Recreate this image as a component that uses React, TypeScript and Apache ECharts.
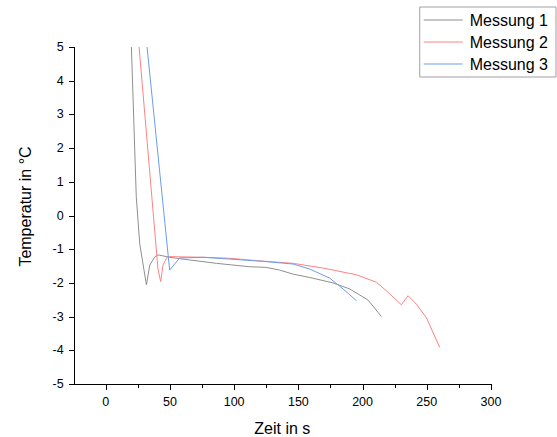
import React, { useEffect, useRef, useState } from "react";
import * as echarts from "echarts";

const seriesNames = ["Messung 1", "Messung 2", "Messung 3"];

const m1X = [20, 23.8, 26.5, 31.7, 34.3, 38.4, 41, 49.8, 65.4, 86.2, 112, 125, 135.5, 145.9, 158.9, 177, 190, 204.3, 214.7];
const m1Y = [5, 0.55, -0.84, -2.06, -1.47, -1.22, -1.17, -1.24, -1.32, -1.42, -1.52, -1.54, -1.62, -1.74, -1.84, -2.0, -2.18, -2.51, -3.0];

const m2X = [26, 40.7, 42.8, 44.6, 47.7, 49.8, 75.8, 96.6, 117.4, 145.9, 169.3, 195.3, 210.8, 219.9, 230.2, 235.4, 241.9, 249.7, 260.1];
const m2Y = [5, -1.59, -1.96, -1.47, -1.24, -1.22, -1.24, -1.27, -1.34, -1.42, -1.56, -1.76, -1.98, -2.28, -2.65, -2.38, -2.63, -3.03, -3.92];

const m3X = [32.2, 49.8, 57.6, 75.8, 106.9, 122.5, 145.9, 158.9, 174.5, 184.8, 195.3];
const m3Y = [5, -1.62, -1.26, -1.24, -1.32, -1.36, -1.44, -1.59, -1.86, -2.18, -2.53];

const xMin = -25;
const xMax = 300;
const yMin = -5;
const yMax = 5;
const xMajorTicks = [0, 50, 100, 150, 200, 250, 300];
const xMinorTicks = [25, 75, 125, 175, 225, 275];
const yTicks = [-5, -4, -3, -2, -1, 0, 1, 2, 3, 4, 5];

const colors = ["#8f8f8f", "#ff8282", "#6b9de9"];

const pair = (xs: number[], ys: number[]) => xs.map((x, i) => [x, ys[i]]);

type Frame = {
  ax: number;
  ay: number;
  axEnd: number;
  ayTop: number;
  xT: { x: number; len: number }[];
  yT: number[];
};

export default function App() {
  const ref = useRef<HTMLDivElement>(null);
  const [frame, setFrame] = useState<Frame | null>(null);
  useEffect(() => {
    if (!ref.current) return;
    const chart = echarts.init(ref.current, null, { renderer: "svg" });
    const font = "Arial, 'Liberation Sans', sans-serif";
    const datasets = [pair(m1X, m1Y), pair(m2X, m2Y), pair(m3X, m3Y)];
    chart.setOption({
      animation: false,
      backgroundColor: "#ffffff",
      textStyle: { fontFamily: font },
      grid: { left: 73.6, right: 66, top: 47, bottom: 53, outerBoundsMode: "none", containLabel: false },
      legend: {
        orient: "vertical",
        right: 1,
        top: 7,
        padding: [4, 8, 4, 4],
        itemGap: 4,
        itemWidth: 39,
        itemHeight: 1,
        icon: "rect",
        borderColor: "#a0a0a0",
        borderWidth: 1,
        backgroundColor: "#ffffff",
        textStyle: { fontSize: 16, color: "#000", fontFamily: font, lineHeight: 18, padding: [0, 0, 0, 2] },
        data: seriesNames,
      },
      xAxis: {
        type: "value",
        min: xMin,
        max: xMax,
        name: "Zeit in s",
        nameLocation: "middle",
        nameGap: 36,
        nameTextStyle: { fontSize: 16, color: "#000", fontFamily: font },
        axisLine: { show: false },
        axisTick: { show: false },
        minorTick: { show: false },
        axisLabel: { customValues: xMajorTicks, fontSize: 12.5, color: "#000", margin: 11, fontFamily: font },
        splitLine: { show: false },
      },
      yAxis: {
        type: "value",
        min: yMin,
        max: yMax,
        interval: 1,
        axisLine: { show: false },
        axisTick: { show: false },
        axisLabel: { fontSize: 12.5, color: "#000", margin: 10, fontFamily: font },
        splitLine: { show: false },
      },
      series: seriesNames.map((name, i) => ({
        name,
        type: "line",
        data: datasets[i],
        symbol: "none",
        showSymbol: false,
        lineStyle: { color: colors[i], width: 1 },
        itemStyle: { color: colors[i] },
      })),
    });

    const toPx = (x: number, y: number) => chart.convertToPixel({ gridIndex: 0 }, [x, y]) as number[];
    const [x0, y0] = toPx(xMin, yMin);
    const [xe, ye] = toPx(xMax, yMax);
    const ax = Math.round(x0);
    const ay = Math.round(y0);

    chart.setOption({
      graphic: [
        {
          type: "text",
          x: ax - 49,
          y: (y0 + ye) / 2 - 9,
          rotation: Math.PI / 2,
          silent: true,
          style: { text: "Temperatur in °C", fontSize: 16, fontFamily: font, fill: "#000", align: "center", verticalAlign: "middle" },
        },
      ],
    });

    setFrame({
      ax,
      ay,
      axEnd: Math.round(xe),
      ayTop: Math.round(ye),
      xT: [
        ...xMajorTicks.map((v) => ({ x: Math.round(toPx(v, yMin)[0]), len: 6 })),
        ...xMinorTicks.map((v) => ({ x: Math.round(toPx(v, yMin)[0]), len: 4 })),
      ],
      yT: yTicks.map((v) => Math.round(toPx(xMin, v)[1])),
    });
    return () => chart.dispose();
  }, []);

  const bar = (key: string, left: number, top: number, width: number, height: number) => (
    <div
      key={key}
      style={{ position: "absolute", left, top, width, height, background: "#000", pointerEvents: "none", zIndex: 5 }}
    />
  );

  return (
    <div style={{ position: "absolute", left: 0, top: 0, width: 557, height: 437 }}>
      <div ref={ref} style={{ width: 557, height: 437, position: "absolute", left: 0, top: 0 }} />
      {frame ? (
        <>
          {bar("xaxis", frame.ax, frame.ay, frame.axEnd - frame.ax + 1, 1)}
          {bar("yaxis", frame.ax, frame.ayTop, 1, frame.ay - frame.ayTop + 1)}
          {frame.xT.map((t, i) => bar("xt" + i, t.x, frame.ay, 1, t.len))}
          {frame.yT.map((ty, i) => bar("yt" + i, frame.ax - 5, ty, 6, 1))}
        </>
      ) : null}
    </div>
  );
}
